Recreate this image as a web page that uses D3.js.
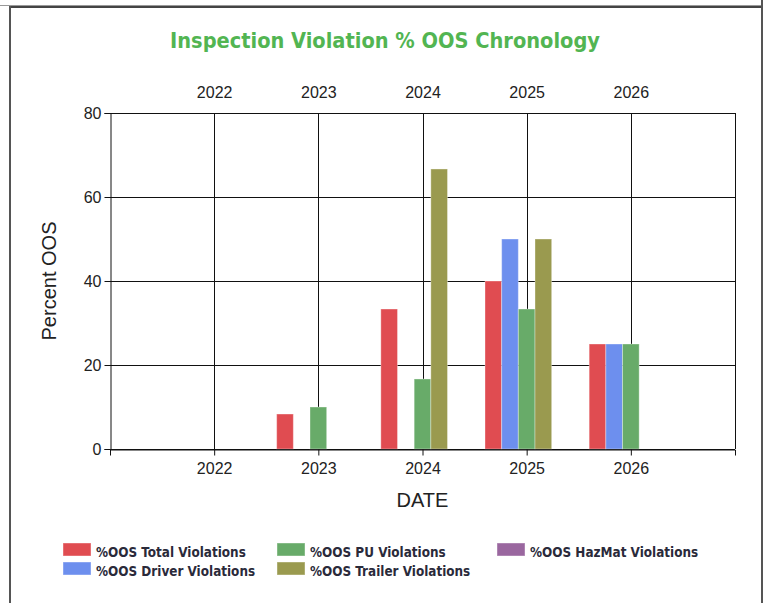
<!DOCTYPE html>
<html>
<head>
<meta charset="utf-8">
<script src="https://cdn.jsdelivr.net/npm/d3@7"></script>
<style>
  body { margin: 0; background: #fff; }
  svg { display: block; }
  .tick text { font-family: "Liberation Sans", Arial, sans-serif; font-size: 16px; fill: #222; }
</style>
</head>
<body>
<script>
var W = 773, H = 603;
var margin = {top: 113, right: 38, bottom: 154, left: 110};

// data
var years = [2022, 2023, 2024, 2025, 2026];
var seriesNames = ['%OOS Total Violations', '%OOS Driver Violations', '%OOS PU Violations', '%OOS Trailer Violations', '%OOS HazMat Violations'];
var seriesColors = ['#e04c51', '#6d8fee', '#68ab69', '#9a9a4f', '#9a679f'];
var totalPct   = [0, 8.33, 33.33, 40, 25];
var driverPct  = [0, 0, 0, 50, 25];
var puPct      = [0, 10, 16.67, 33.33, 25];
var trailerPct = [0, 0, 66.67, 50, 0];
var hazmatPct  = [0, 0, 0, 0, 0];
var yTicks = [0, 20, 40, 60, 80];
var allSeries = [totalPct, driverPct, puPct, trailerPct, hazmatPct];

var svg = d3.select('body').append('svg')
    .attr('width', W)
    .attr('height', H);

// outer frame
svg.append('line').attr('x1', 0).attr('x2', 762).attr('y1', 5.5).attr('y2', 5.5)
    .attr('stroke', '#999').attr('stroke-width', 1);
svg.append('line').attr('x1', 9).attr('x2', 762).attr('y1', 7).attr('y2', 7)
    .attr('stroke', '#444').attr('stroke-width', 2);
svg.append('line').attr('x1', 10).attr('x2', 10).attr('y1', 6).attr('y2', H)
    .attr('stroke', '#555').attr('stroke-width', 2);
svg.append('line').attr('x1', 762).attr('x2', 762).attr('y1', 0).attr('y2', H)
    .attr('stroke', '#555').attr('stroke-width', 2);

var w = W - margin.left - margin.right;
var h = H - margin.top - margin.bottom;

var g = svg.append('g')
    .attr('transform', 'translate(' + margin.left + ',' + margin.top + ')');

var xScale = d3.scaleLinear().domain([2021, 2027]).range([0, w]);
var yScale = d3.scaleLinear().domain([0, 80]).range([h, 0]);
var step = xScale(2022) - xScale(2021);
var bandScale = d3.scaleBand().domain(seriesNames).range([-step * 0.4, step * 0.4]);

// grid
g.append('g').selectAll('line.hg')
    .data(yTicks).enter().append('line')
    .attr('x1', 0).attr('x2', w)
    .attr('y1', function (d) { return Math.round(yScale(d)) + 0.5; })
    .attr('y2', function (d) { return Math.round(yScale(d)) + 0.5; })
    .attr('stroke', '#111').attr('stroke-width', 1);
g.append('g').selectAll('line.vg')
    .data(years).enter().append('line')
    .attr('x1', function (d) { return Math.round(xScale(d)) + 0.5; })
    .attr('x2', function (d) { return Math.round(xScale(d)) + 0.5; })
    .attr('y1', 0).attr('y2', h)
    .attr('stroke', '#111').attr('stroke-width', 1);
g.append('line').attr('x1', w + 0.5).attr('x2', w + 0.5).attr('y1', 0).attr('y2', h)
    .attr('stroke', '#111');

// bars
allSeries.forEach(function (vals, si) {
    g.append('g').selectAll('rect')
        .data(vals.map(function (v, i) { return {year: years[i], v: v}; }).filter(function (d) { return d.v > 0; }))
        .enter().append('rect')
        .attr('x', function (d) { return xScale(d.year) + bandScale(seriesNames[si]); })
        .attr('width', bandScale.bandwidth())
        .attr('y', function (d) { return yScale(d.v); })
        .attr('height', function (d) { return h - yScale(d.v); })
        .attr('fill', seriesColors[si])
        .attr('stroke', 'rgba(255,255,255,0.35)')
        .attr('stroke-width', 1);
});

// axes
var yAxis = d3.axisLeft(yScale).tickValues(yTicks).tickSize(6).tickPadding(3);
g.append('g').attr('transform', 'translate(0.5,0)').call(yAxis)
    .call(function (s) { s.select('.domain').attr('stroke', '#111'); s.selectAll('.tick line').attr('stroke', '#111'); });

var xAxis = d3.axisBottom(xScale).tickValues(years).tickFormat(d3.format('d')).tickSizeInner(6).tickSizeOuter(6).tickPadding(7);
g.append('g').attr('transform', 'translate(0,' + (h + 0.5) + ')').call(xAxis)
    .call(function (s) { s.select('.domain').attr('stroke', '#111'); s.selectAll('.tick line').attr('stroke', '#111'); });

var xTop = d3.axisTop(xScale).tickValues(years).tickFormat(d3.format('d')).tickSize(0).tickPadding(15);
g.append('g').call(xTop)
    .call(function (s) { s.select('.domain').remove(); });

// axis titles
svg.append('text')
    .attr('transform', 'translate(56,' + (margin.top + h / 2) + ') rotate(-90)')
    .attr('text-anchor', 'middle')
    .style('font-family', '"Liberation Sans", Arial, sans-serif')
    .style('font-size', '20px')
    .attr('fill', '#222')
    .text('Percent OOS');
svg.append('text')
    .attr('x', margin.left + xScale(2024)).attr('y', 507)
    .attr('text-anchor', 'middle')
    .style('font-family', '"Liberation Sans", Arial, sans-serif')
    .style('font-size', '20px')
    .attr('fill', '#222')
    .text('DATE');

// fit a text to a wanted width by changing its font size
function fitWidth(sel, base, target) {
    sel.each(function () {
        var len = this.getComputedTextLength();
        d3.select(this).style('font-size', (base * target / len).toFixed(2) + 'px');
    });
}

// title
var title = svg.append('text')
    .attr('x', 385).attr('y', 48)
    .attr('text-anchor', 'middle')
    .style('font-family', '"DejaVu Sans Condensed", "DejaVu Sans", sans-serif')
    .style('font-size', '20px')
    .style('font-weight', '600')
    .attr('fill', '#52b552')
    .text('Inspection Violation % OOS Chronology');
fitWidth(title, 20, 430);

// legend, filled column by column
var legendCols = [63, 277, 497];
var legend = svg.append('g').selectAll('g')
    .data(seriesNames).enter().append('g')
    .attr('transform', function (d, i) {
        return 'translate(' + legendCols[Math.floor(i / 2)] + ',' + (543 + (i % 2) * 19) + ')';
    });
legend.append('rect')
    .attr('width', 28).attr('height', 13)
    .attr('fill', function (d, i) { return seriesColors[i]; })
    .attr('stroke', 'rgba(255,255,255,0.4)');
var legendText = legend.append('text')
    .attr('x', 33).attr('y', 13.5)
    .style('font-family', '"DejaVu Sans Condensed", "DejaVu Sans", sans-serif')
    .style('font-size', '12px')
    .style('font-weight', '600')
    .attr('fill', '#2a2a3a')
    .text(function (d) { return d; });
// scale from the first label: about 150px wide in the reference
var len0 = legendText.node().getComputedTextLength();
legendText.style('font-size', (12 * 150 / len0).toFixed(2) + 'px');
</script>
</body>
</html>
